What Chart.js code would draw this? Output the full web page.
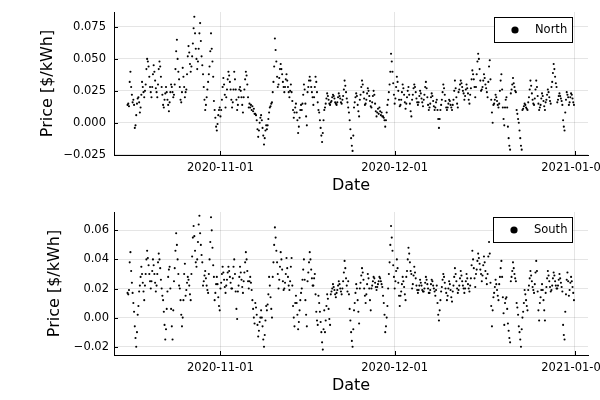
<!DOCTYPE html>
<html>
<head>
<meta charset="utf-8">
<script src="https://cdn.jsdelivr.net/npm/chart.js@4.4.1/dist/chart.umd.min.js"></script>
<style>
  html, body { margin: 0; padding: 0; background: #fff; }
  .panel { position: absolute; left: 0; width: 600px; height: 200px; }
</style>
</head>
<body>
<div class="panel" style="top:0"><canvas id="north"></canvas></div>
<div class="panel" style="top:200px"><canvas id="south"></canvas></div>
<script>
// sampling: one row per day starting 2020-10-16, samples at these hours
const startDate = "2020-10-16";
const sampleHours = [0, 3, 6, 9, 12, 15, 18, 21];
const dateTicks = ["2020-11-01", "2020-12-01", "2021-01-01"];

const northTicks = [-0.025, 0, 0.025, 0.05, 0.075];
const northTickLabels = ["\u22120.025", "0.000", "0.025", "0.050", "0.075"];
const southTicks = [-0.02, 0, 0.02, 0.04, 0.06];
const southTickLabels = ["\u22120.02", "0.00", "0.02", "0.04", "0.06"];

// prices in $/MWh (0.001 $/kWh)
const northMWh = [
  14, 15, 13, 32, 40, 28, 22, 16,
  18, 14, -4, -2, 6, 15, 19, 20,
  16, 8, 12, 22, 32, 28, 24, 20,
  25, 30, 42, 50, 48, 44, 36, 28,
  24, 20, 28, 38, 45, 40, 33, 27,
  24, 20, 30, 42, 48, 44, 36, 28,
  22, 14, 12, 18, 23, 28, 24, 18,
  14, 9, 16, 24, 30, 28, 24, 20,
  22, 30, 42, 56, 65, 50, 40, 34,
  28, 18, 16, 24, 43, 36, 28, 20,
  24, 26, 38, 52, 60, 55, 46, 40,
  44, 52, 62, 74, 83, 70, 58, 50,
  42, 48, 58, 70, 78, 64, 52, 45,
  38, 28, 18, 10, 14, 20, 26, 32,
  38, 44, 56, 70, 58, 48, 36, 17,
  10, 4, -3, -6, -1, 6, 10, 12,
  5, 10, 18, 28, 35, 30, 22, 12,      // Nov 1
  20, 26, 34, 40, 37, 32, 26, 18,
  12, 16, 26, 40, 34, 26, 18, 10,
  14, 20, 26, 28, 25, 20, 14, 8,
  20, 26, 34, 40, 37, 30, 20, 12,
  15, 12, 14, 10, 13, 9, 11, 7,
  7, 6, 2, -5, -11, -6, 0, 4,
  6, 2, -4, -10, -17, -12, -6, -2,
  -5, -2, 3, 8, 12, 13, 15, 16,
  24, 32, 44, 66, 57, 48, 36, 28,
  30, 35, 42, 46, 42, 38, 32, 28,
  24, 28, 34, 38, 33, 28, 24, 20,
  25, 30, 24, 17, 10, 4, 8, 12,
  15, 8, 2, -8, -3, 4, 10, 14,
  10, 15, 22, 30, 26, 15, 5, -2,
  24, 28, 33, 36, 33, 28, 24, 20,
  14, 20, 28, 36, 32, 24, 16, 10,
  8, 2, -4, -10, -15, -8, 2, 10,
  12, 15, 19, 23, 21, 18, 15, 14,
  16, 17, 20, 22, 21, 19, 16, 15,
  14, 16, 20, 23, 21, 19, 16, 15,
  18, 21, 26, 33, 29, 24, 19, 16,
  12, 8, 2, -5, -12, -18, -22, -10,
  12, 16, 20, 23, 21, 14, 9, 5,
  18, 22, 28, 33, 30, 24, 19, 14,
  15, 18, 23, 27, 25, 21, 17, 13,
  12, 16, 21, 25, 22, 15, 9, 5,
  8, 11, 7, 12, 9, 6, 8, 5,
  5, 4, 2, -3, 2, 8, 14, 18,
  24, 30, 40, 54, 48, 40, 31, 22,
  15, 19, 28, 36, 32, 25, 18, 13,     // Dec 1
  14, 18, 24, 30, 27, 22, 16, 11,
  15, 20, 25, 28, 22, 15, 9, 5,
  18, 22, 27, 30, 28, 24, 19, 16,
  14, 16, 21, 25, 23, 19, 16, 13,
  18, 22, 28, 32, 27, 20, 14, 10,
  12, 15, 20, 23, 21, 17, 13, 10,
  12, 16, 18, 10, 3, -4, 3, 10,
  14, 18, 24, 30, 27, 22, 17, 12,
  10, 12, 15, 18, 17, 14, 12, 10,
  14, 18, 25, 33, 27, 20, 15, 12,
  24, 26, 30, 33, 31, 28, 25, 23,
  18, 21, 26, 30, 27, 23, 18, 15,
  22, 27, 34, 41, 38, 34, 28, 20,
  28, 38, 48, 54, 50, 42, 33, 25,
  26, 28, 33, 38, 35, 30, 27, 24,
  20, 32, 44, 49, 34, 18, 8, 0,
  14, 15, 18, 22, 20, 17, 14, 12,
  15, 25, 33, 38, 26, 12, 3, -2,
  12, 18, 20, 12, -3, -12, -18, -21,
  23, 26, 30, 35, 31, 28, 25, 24,
  10, 7, 3, 0, -6, -12, -18, -21,
  10, 11, 13, 15, 14, 12, 11, 10,
  16, 20, 26, 33, 29, 23, 18, 15,
  14, 19, 26, 33, 28, 21, 15, 10,
  12, 14, 19, 23, 21, 17, 13, 10,
  16, 18, 22, 26, 24, 20, 17, 15,
  28, 32, 39, 46, 42, 36, 31, 28,
  16, 18, 21, 23, 21, 19, 17, 14,
  2, -3, -6, 8, 18, 24, 22, 20,
  14, 16, 20, 23, 22, 19, 16, 14
];

const southMWh = [
  17, 16, 19, 38, 45, 32, 24, 17,
  10, 4, -6, -14, -20, -10, 2, 8,
  18, 22, 28, 35, 30, 24, 18, 12,
  22, 30, 40, 46, 41, 36, 30, 25,
  20, 25, 32, 40, 36, 30, 24, 18,
  22, 30, 38, 44, 40, 34, 26, 20,
  15, 12, 4, -5, -15, -8, 6, 18,
  28, 33, 35, 20, 6, -6, -15, 5,
  25, 34, 46, 58, 50, 40, 30, 22,
  20, 12, 2, -6, 0, 12, 30, 37,
  15, 19, 24, 28, 26, 22, 16, 12,
  30, 42, 55, 63, 56, 46, 38, 35,
  40, 52, 64, 70, 58, 50, 43, 38,
  22, 25, 29, 32, 27, 22, 19, 17,
  30, 40, 52, 69, 60, 48, 36, 28,
  12, 17, 23, 28, 23, 14, 8, 5,
  20, 24, 30, 35, 31, 26, 21, 17,     // Nov 1
  22, 26, 31, 35, 32, 28, 24, 20,
  20, 27, 35, 40, 30, 18, 6, -1,
  18, 22, 28, 35, 31, 26, 21, 17,
  25, 31, 38, 45, 40, 32, 25, 20,
  25, 28, 24, 19, 12, 6, 0, -4,
  10, 7, 2, -5, -13, -9, -3, 0,
  5, 0, -6, -15, -20, -12, -2, 8,
  5, 9, 16, 28, 22, 14, 6, 0,
  28, 38, 50, 62, 55, 46, 38, 30,
  20, 26, 35, 45, 40, 33, 25, 19,
  20, 24, 30, 41, 34, 28, 22, 19,
  25, 35, 41, 22, 8, 0, -6, 10,
  15, 10, 2, -8, -3, 5, 12, 17,
  20, 26, 33, 40, 26, 12, 2, -6,
  25, 31, 38, 45, 40, 33, 27, 22,
  22, 27, 30, 16, 4, -2, -5, 15,
  10, 4, -3, -10, -17, -22, -8, 5,
  -10, -2, 8, 16, 13, 6, -1, -5,
  16, 18, 20, 23, 21, 19, 16, 14,
  17, 19, 22, 25, 23, 20, 18, 16,
  20, 25, 31, 39, 34, 27, 22, 18,
  25, 16, 6, -2, -10, -16, -20, -8,
  5, 10, 17, 23, 20, 12, 4, -4,
  20, 24, 29, 34, 31, 26, 20, 15,
  10, 16, 23, 30, 27, 20, 12, 5,
  20, 22, 25, 28, 27, 24, 21, 19,
  21, 23, 25, 28, 27, 25, 23, 21,
  15, 10, 2, -10, -6, 0, 8, 20,
  30, 38, 50, 63, 55, 46, 36, 28,
  20, 25, 32, 40, 34, 24, 15, 8,      // Dec 1
  15, 18, 23, 28, 25, 21, 16, 12,
  28, 32, 40, 48, 44, 38, 32, 30,
  20, 23, 29, 35, 31, 27, 22, 19,
  17, 19, 22, 26, 24, 22, 19, 18,
  18, 20, 24, 28, 26, 23, 20, 17,
  17, 19, 23, 26, 25, 22, 20, 18,
  15, 19, 22, 10, 2, -2, 5, 12,
  18, 21, 26, 30, 28, 24, 20, 17,
  12, 15, 20, 25, 23, 19, 14, 11,
  18, 22, 28, 34, 30, 25, 20, 17,
  19, 22, 27, 32, 29, 25, 22, 20,
  17, 20, 25, 30, 27, 23, 20, 18,
  22, 27, 36, 46, 40, 34, 27, 21,
  30, 33, 39, 44, 41, 37, 33, 30,
  25, 29, 36, 42, 38, 32, 27, 23,
  30, 42, 52, 44, 24, 8, -6, 5,
  14, 17, 21, 26, 23, 19, 15, 12,
  23, 28, 34, 39, 28, 14, 3, -5,
  10, 13, 14, 6, -4, -9, -14, -17,
  25, 28, 32, 38, 34, 30, 27, 25,
  10, 7, 2, -6, -10, -15, -20, -8,
  0, 4, 10, 19, 16, 12, 8, 5,
  19, 22, 27, 32, 29, 25, 21, 19,
  17, 23, 31, 39, 32, 18, 5, -2,
  10, 14, 19, 23, 19, 12, 5, -2,
  17, 21, 27, 32, 29, 25, 21, 18,
  19, 22, 27, 31, 29, 25, 22, 20,
  20, 22, 26, 30, 27, 24, 21, 18,
  -5, -12, -15, 4, 16, 26, 31, 25,
  15, 19, 24, 28, 25, 21, 17, 12
];

const FONT = '"DejaVu Sans", sans-serif';
const DAY = 864e5;
const t0 = Date.parse(startDate);
const tickDays = dateTicks.map(d => (Date.parse(d) - t0) / DAY);
const xMin = -2.33, xMax = 79.29;

function toPoints(mwh) {
  const n = sampleHours.length;
  return mwh.map((v, i) => ({
    x: Math.floor(i / n) + sampleHours[i % n] / 24,
    y: v / 1000
  }));
}

// inward tick marks + boxed legend in the upper right of the plot area
const frameExtras = {
  id: 'frameExtras',
  afterDraw(chart) {
    const { ctx, chartArea: a, scales: { x, y } } = chart;
    ctx.save();
    ctx.strokeStyle = '#000';
    ctx.lineWidth = 1;
    ctx.beginPath();
    x.ticks.forEach(t => {
      const px = Math.round(x.getPixelForValue(t.value)) + 0.5;
      ctx.moveTo(px, a.bottom); ctx.lineTo(px, a.bottom - 4);
    });
    y.ticks.forEach(t => {
      const py = Math.round(y.getPixelForValue(t.value)) + 0.5;
      ctx.moveTo(a.left, py); ctx.lineTo(a.left + 4, py);
    });
    ctx.stroke();

    const label = chart.data.datasets[0].label;
    ctx.font = '11.5px ' + FONT;
    const w = Math.round(ctx.measureText(label).width + 46);
    const h = 25;
    const right = Math.round(a.right - 16), top = Math.round(a.top + 5);
    const left = right - w;
    ctx.fillStyle = '#fff';
    ctx.fillRect(left, top, w, h);
    ctx.strokeRect(left + 0.5, top + 0.5, w, h);
    ctx.fillStyle = '#000';
    ctx.beginPath();
    ctx.arc(left + 21, top + h / 2 + 0.5, 3.6, 0, 2 * Math.PI);
    ctx.fill();
    ctx.textBaseline = 'middle';
    ctx.fillText(label, left + 41, top + h / 2 + 1);
    ctx.restore();
  }
};

function makePanel(id, label, mwh, ticks, tickLabels, yMin, yMax, titlePad, labelPad) {
  new Chart(document.getElementById(id), {
    type: 'scatter',
    data: {
      datasets: [{
        label,
        data: toPoints(mwh),
        pointRadius: 1.05,
        pointBorderWidth: 0,
        pointBackgroundColor: '#000',
        pointBorderColor: '#000'
      }]
    },
    options: {
      animation: false,
      responsive: true,
      maintainAspectRatio: false,
      layout: { padding: { left: 0, right: 12, top: 12, bottom: 0 } },
      plugins: { legend: { display: false }, tooltip: { enabled: false } },
      scales: {
        x: {
          type: 'linear', min: xMin, max: xMax,
          afterBuildTicks: s => { s.ticks = tickDays.map(v => ({ value: v })); },
          afterFit: s => { s.height = 45; s.paddingLeft = 0; s.paddingRight = 0; },
          ticks: {
            autoSkip: false, maxRotation: 0, padding: 6, color: '#000',
            font: { family: FONT, size: 11.5 },
            callback: (v, i) => dateTicks[i]
          },
          grid: { color: 'rgba(0,0,0,0.1)', drawTicks: false },
          border: { display: true, color: '#000', width: 1 },
          title: {
            display: true, text: 'Date', color: '#000',
            font: { family: FONT, size: 16 }, padding: { top: 0, bottom: 5 }
          }
        },
        y: {
          min: yMin, max: yMax,
          afterBuildTicks: s => { s.ticks = ticks.map(v => ({ value: v })); },
          afterFit: s => { s.width = 114; s.paddingTop = 0; s.paddingBottom = 0; },
          ticks: {
            padding: labelPad, color: '#000',
            font: { family: FONT, size: 11.5 },
            callback: (v, i) => tickLabels[i]
          },
          grid: { color: 'rgba(0,0,0,0.1)', drawTicks: false },
          border: { display: true, color: '#000', width: 1 },
          title: {
            display: true, text: 'Price [$/kWh]', color: '#000',
            font: { family: FONT, size: 16 }, padding: { top: titlePad, bottom: 0 }
          }
        }
      }
    },
    plugins: [frameExtras]
  });
}

makePanel('north', 'North', northMWh, northTicks, northTickLabels, -0.0252, 0.0867, 38, 8);
makePanel('south', 'South', southMWh, southTicks, southTickLabels, -0.0257, 0.0726, 45, 5);
</script>
</body>
</html>
